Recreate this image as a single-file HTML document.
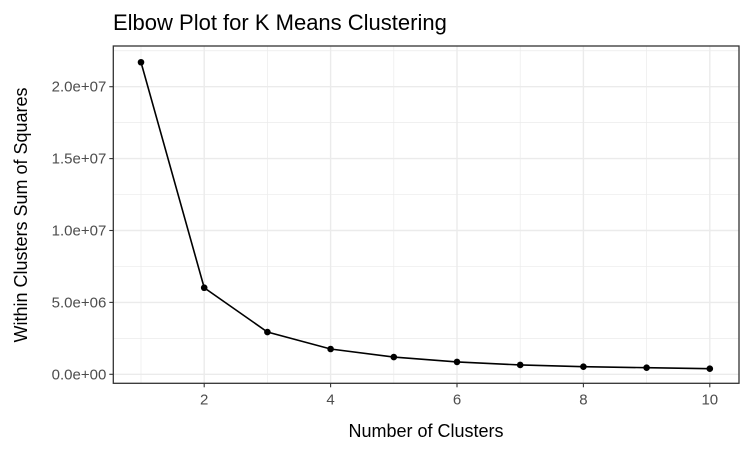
<!DOCTYPE html>
<html><head><meta charset="utf-8"><style>
body{margin:0;background:#fff}
svg{display:block;font-family:"Liberation Sans",Arial,sans-serif}
</style></head><body>
<svg id="chart" width="750" height="450">
<text x="113" y="30" font-size="22" fill="#000">Elbow Plot for K Means Clustering</text>
<g id="grid"></g>
<g id="series"></g>
<rect x="113.3" y="46" width="625.7" height="337.3" fill="none" stroke="#333" stroke-width="1.3"/>
<g id="axes"></g>
<text x="426" y="437" font-size="18" text-anchor="middle" fill="#000">Number of Clusters</text>
<text transform="translate(27,215) rotate(-90)" font-size="18" text-anchor="middle" fill="#000">Within Clusters Sum of Squares</text>
</svg>
<script>
const clusters=[1,2,3,4,5,6,7,8,9,10];
const wss=[21.7e6,6.02e6,2.94e6,1.76e6,1.2e6,0.86e6,0.65e6,0.53e6,0.46e6,0.39e6];
const xTicks=[2,4,6,8,10];
const yTicks=[0,5e6,1e7,1.5e7,2e7];
const yTickLabels=["0.0e+00","5.0e+06","1.0e+07","1.5e+07","2.0e+07"];
const L=113.3,R=739,T=46,B=383.3;
const sx=v=>141+(v-1)*63.2;
const sy=v=>374.3-v/1e7*143.8;
const NS="http://www.w3.org/2000/svg";
function mk(tag,attrs,parent){const e=document.createElementNS(NS,tag);for(const k in attrs)e.setAttribute(k,attrs[k]);parent.appendChild(e);return e;}
const grid=document.getElementById('grid'),axes=document.getElementById('axes'),series=document.getElementById('series');
for(let v=1;v<=11;v+=2){const x=sx(v);if(x>L&&x<R){const l=mk('line',{x1:x,x2:x,y1:T,y2:B,stroke:'#ebebeb','stroke-width':0.7},grid);}}
for(let i=0;i<yTicks.length;i++){const y=sy(yTicks[i]+2.5e6);if(y>T&&y<B){const l=mk('line',{x1:L,x2:R,y1:y,y2:y,stroke:'#ebebeb','stroke-width':0.7},grid);}}
xTicks.forEach(v=>{const x=sx(v);
const g=mk('line',{x1:x,x2:x,y1:T,y2:B,stroke:'#ebebeb','stroke-width':1.4},grid);
const t=mk('line',{x1:x,x2:x,y1:B,y2:B+4,stroke:'#333','stroke-width':1.1},axes);
const tx=mk('text',{x:x,y:B+21,'font-size':15,'text-anchor':'middle',fill:'#4d4d4d'},axes);tx.textContent=v;});
yTicks.forEach((v,i)=>{const y=sy(v);
const g=mk('line',{x1:L,x2:R,y1:y,y2:y,stroke:'#ebebeb','stroke-width':1.4},grid);
const t=mk('line',{x1:L-4,x2:L,y1:y,y2:y,stroke:'#333','stroke-width':1.1},axes);
const tx=mk('text',{x:L-7,y:y+5,'font-size':15,'text-anchor':'end',fill:'#4d4d4d'},axes);tx.textContent=yTickLabels[i];});
const pl=mk('polyline',{points:clusters.map((c,i)=>sx(c)+','+sy(wss[i])).join(' '),fill:'none',stroke:'#000','stroke-width':1.6},series);


clusters.forEach((c,i)=>{const p=mk('circle',{cx:sx(c),cy:sy(wss[i]),r:3.3,fill:'#000'},series);

});
</script>
</body></html>
